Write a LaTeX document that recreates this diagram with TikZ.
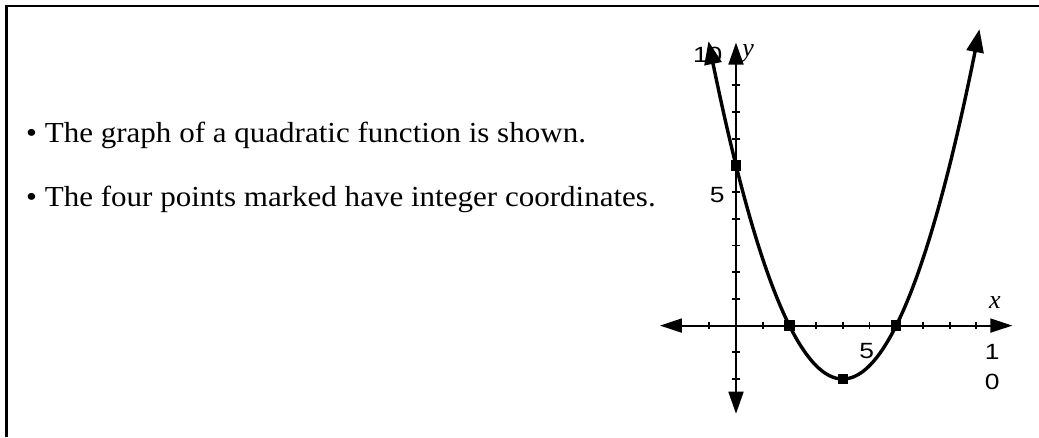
\documentclass[tikz,border=0pt]{standalone}
\usepackage{fontspec}
\setmainfont{Liberation Serif}
\setsansfont{Liberation Sans}
\usetikzlibrary{arrows.meta}
\begin{document}
\begin{tikzpicture}[x=1pt,y=1pt,
  frameline/.style={line width=2.5pt},
  bullettext/.style={anchor=base west,inner sep=0pt,xscale=1.07,font=\fontsize{29}{32}\selectfont},
  axisline/.style={line width=1.8pt},
  curveline/.style={line width=3.4pt},
  tickmark/.style={line width=1.8pt},
  ticklabel/.style={inner sep=0pt,xscale=1.2,font=\sffamily\fontsize{22}{24}\selectfont},
  axislabel/.style={inner sep=0pt,font=\itshape\fontsize{26}{28}\selectfont},
  ptmark/.style={fill=black,minimum size=10.5pt,inner sep=0pt,rectangle}
]
\useasboundingbox (0,0) rectangle (1039,437);
% frame
\draw[frameline] (6.5,0) -- (6.5,431) -- (1039,431);
% text
\node[bullettext] (t1) at (26,294) {• The graph of a quadratic function is shown.};
\node[bullettext] (t2) at (26,230) {• The four points marked have integer coordinates.};
% graph
\begin{scope}[shift={(736,111.4)},x=26.7pt,y=26.7pt]
  \coordinate (xl) at (-2.85,0);
  \coordinate (xr) at (10.35,0);
  \coordinate (yb) at (0,-3.3);
  \coordinate (yt) at (0,10.6);
  \draw[axisline,{Triangle[length=22pt,width=14pt]}-{Triangle[length=22pt,width=14pt]}] (xl) -- (xr);
  \draw[axisline,{Triangle[length=22pt,width=15pt]}-{Triangle[length=22pt,width=15pt]}] (yb) -- (yt);
  \foreach \i in {-1,1,2,...,9} \draw[tickmark] (\i,-0.14) -- (\i,0.14);
  \foreach \j in {-2,-1,1,2,...,9} \draw[tickmark] (-0.14,\j) -- (0.14,\j);
  \node[ticklabel,anchor=east] (l10y) at (-0.5,10.13) {10};
  \draw[curveline,{Triangle[length=23pt,width=17pt]}-{Triangle[length=23pt,width=17pt]}]
    plot[domain=-1.03:9.12,samples=120,smooth] (\x,{0.5*(\x-2)*(\x-6)});
  \node[ptmark] (p1) at (0,6) {};
  \node[ptmark] (p2) at (2,0) {};
  \node[ptmark] (p3) at (4,-2) {};
  \node[ptmark] (p4) at (6,0) {};
  \node[ticklabel] (l5x) at (4.9,-0.95) {5};
  \node[ticklabel] (l5y) at (-0.7,4.9) {5};
  \node[ticklabel] (l10a) at (9.6,-0.98) {1};
  \node[ticklabel] (l10b) at (9.6,-2.1) {0};
  \node[axislabel] (lx) at (9.7,0.85) {x};
  \node[axislabel] (ly) at (0.45,10.2) {y};
\end{scope}
\end{tikzpicture}
\end{document}
